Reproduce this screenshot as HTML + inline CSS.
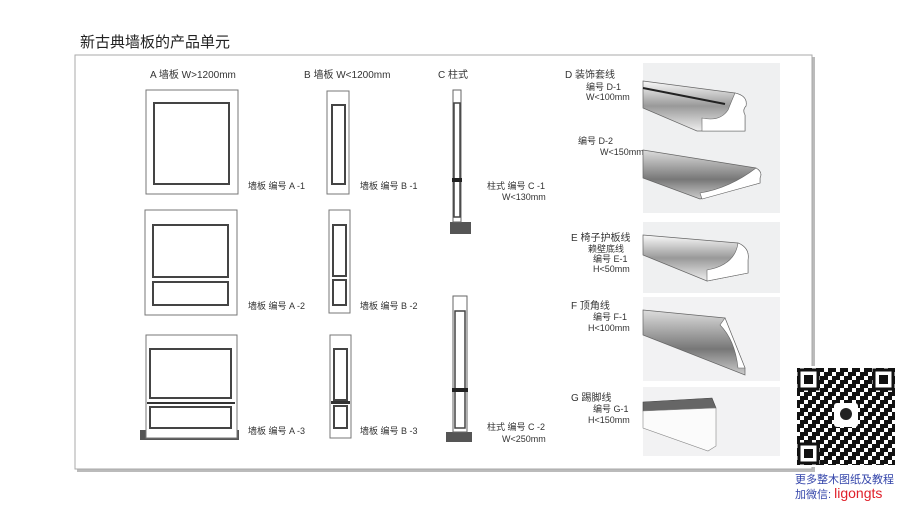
<!DOCTYPE html>
<html><head><meta charset="utf-8"><style>
html,body{margin:0;padding:0;background:#fff;width:900px;height:506px;overflow:hidden}
svg text{font-family:"Liberation Sans","Noto Sans CJK SC",sans-serif;fill:#333}
</style></head><body>
<svg width="900" height="506" viewBox="0 0 900 506" xmlns="http://www.w3.org/2000/svg">
<defs>
<linearGradient id="g1" x1="0" y1="0" x2="0" y2="1"><stop offset="0" stop-color="#fafafa"/><stop offset=".5" stop-color="#999"/><stop offset="1" stop-color="#eee"/></linearGradient>
<linearGradient id="g2" x1="0" y1="0" x2="0" y2="1"><stop offset="0" stop-color="#ddd"/><stop offset=".6" stop-color="#777"/><stop offset="1" stop-color="#ccc"/></linearGradient>
<pattern id="qr" width="12" height="12" patternUnits="userSpaceOnUse">
<rect x="0" y="0" width="4" height="4" fill="#111"/><rect x="8" y="0" width="4" height="8" fill="#111"/><rect x="4" y="4" width="4" height="4" fill="#111"/><rect x="0" y="8" width="8" height="4" fill="#111"/></pattern>
</defs>
<text x="80" y="47" font-size="15" style="fill:#222">新古典墙板的产品单元</text>
<rect x="77" y="57" width="738" height="415" fill="#bbb"/>
<rect x="75" y="55" width="737" height="414" fill="#fff" stroke="#aaa" stroke-width="1"/>
<g font-size="9">
<text x="150" y="78" font-size="10">A 墙板 W&gt;1200mm</text>
<text x="304" y="78" font-size="10">B 墙板 W&lt;1200mm</text>
<text x="438" y="78" font-size="10">C 柱式</text>
<text x="248" y="189">墙板 编号 A -1</text>
<text x="360" y="189">墙板 编号 B -1</text>
<text x="487" y="189">柱式 编号 C -1</text>
<text x="502" y="200">W&lt;130mm</text>
<text x="248" y="309">墙板 编号 A -2</text>
<text x="360" y="309">墙板 编号 B -2</text>
<text x="248" y="434">墙板 编号 A -3</text>
<text x="360" y="434">墙板 编号 B -3</text>
<text x="487" y="430">柱式 编号 C -2</text>
<text x="502" y="442">W&lt;250mm</text>
<text x="565" y="78" font-size="10">D 装饰套线</text>
<text x="586" y="90">编号 D-1</text>
<text x="586" y="100">W&lt;100mm</text>
<text x="578" y="144">编号 D-2</text>
<text x="600" y="155">W&lt;150mm</text>
<text x="571" y="241" font-size="10">E 椅子护板线</text>
<text x="588" y="252">赖壁底线</text>
<text x="593" y="262">编号 E-1</text>
<text x="593" y="272">H&lt;50mm</text>
<text x="571" y="309" font-size="10">F 顶角线</text>
<text x="593" y="320">编号 F-1</text>
<text x="588" y="331">H&lt;100mm</text>
<text x="571" y="401" font-size="10">G 踢脚线</text>
<text x="593" y="412">编号 G-1</text>
<text x="588" y="423">H&lt;150mm</text>
</g>
<g fill="#fff" stroke="#444" stroke-width="1">
<rect x="146" y="90" width="92" height="104" stroke="#777"/>
<rect x="154" y="103" width="75" height="81" stroke-width="2"/>
<rect x="145" y="210" width="92" height="105" stroke="#777"/>
<rect x="153" y="225" width="75" height="52" stroke-width="2"/>
<rect x="153" y="282" width="75" height="23" stroke-width="2"/>
<rect x="140" y="430" width="99" height="10" fill="#555" stroke="none"/>
<rect x="146" y="335" width="91" height="103" stroke="#777"/>
<rect x="150" y="349" width="81" height="49" stroke-width="2"/>
<rect x="147" y="402" width="88" height="2" fill="#333" stroke="none"/>
<rect x="150" y="407" width="81" height="21" stroke-width="2"/>
<rect x="327" y="91" width="22" height="103" stroke="#777"/>
<rect x="332" y="105" width="13" height="79" stroke-width="2"/>
<rect x="329" y="210" width="21" height="103" stroke="#777"/>
<rect x="333" y="225" width="13" height="51" stroke-width="2"/>
<rect x="333" y="280" width="13" height="25" stroke-width="2"/>
<rect x="330" y="335" width="21" height="103" stroke="#777"/>
<rect x="334" y="349" width="13" height="51" stroke-width="2"/>
<rect x="331" y="401" width="19" height="3" fill="#333" stroke="none"/>
<rect x="334" y="406" width="13" height="22" stroke-width="2"/>
<rect x="450" y="222" width="21" height="12" fill="#555" stroke="none"/>
<rect x="453" y="90" width="8" height="132" stroke="#666"/>
<rect x="454" y="103" width="6" height="114" stroke-width="1.5"/>
<rect x="452" y="178" width="10" height="4" fill="#222" stroke="none"/>
<rect x="446" y="432" width="26" height="10" fill="#555" stroke="none"/>
<rect x="453" y="296" width="14" height="136" stroke="#666"/>
<rect x="455" y="311" width="10" height="117" stroke-width="1.5"/>
<rect x="452" y="388" width="16" height="4" fill="#222" stroke="none"/>
</g>
<rect x="643" y="63" width="137" height="150" fill="#eff0f1"/>
<rect x="643" y="222" width="137" height="71" fill="#eff0f1"/>
<rect x="643" y="297" width="137" height="84" fill="#f2f2f3"/>
<rect x="643" y="387" width="137" height="69" fill="#f2f2f3"/>
<path d="M643 81 L735 93 Q748 96 746 106 Q742 110 745 115 L745 131 L697 131 L643 108 Z" fill="url(#g1)" stroke="#666" stroke-width=".7"/>
<path d="M735 93 Q748 96 746 106 Q742 110 745 115 L745 131 L702 131 L702 118 Q720 122 728 110 Q732 100 735 93Z" fill="#fff" stroke="#666" stroke-width=".6"/>
<path d="M643 88 L725 104" stroke="#222" stroke-width="2"/>
<path d="M643 150 L756 168 Q763 172 760 178 L760 183 L700 199 L643 178 Z" fill="url(#g2)" stroke="#666" stroke-width=".7"/>
<path d="M756 168 Q763 172 760 178 L760 183 L702 199 L700 193 Q730 188 756 168Z" fill="#fff" stroke="#666" stroke-width=".6"/>
<path d="M643 235 L738 243 Q750 248 748 260 L748 273 L707 281 L643 255 Z" fill="url(#g1)" stroke="#666" stroke-width=".7"/>
<path d="M738 243 Q750 248 748 260 L748 273 L707 281 L707 270 Q735 265 738 243Z" fill="#fff" stroke="#666" stroke-width=".6"/>
<path d="M643 310 L725 318 L745 368 L745 375 L643 335 Z" fill="url(#g2)" stroke="#666" stroke-width=".7"/>
<path d="M725 318 L745 368 L738 368 Q735 340 720 325Z" fill="#fff" stroke="#666" stroke-width=".6"/>
<path d="M643 402 L712 398 L716 408 L643 411 Z" fill="#666" stroke="#444" stroke-width=".6"/>
<path d="M643 411 L716 408 L716 446 L708 451 L643 428 Z" fill="#fbfbfb" stroke="#888" stroke-width=".6"/>
<rect x="795" y="366" width="102" height="101" fill="#fff"/>
<rect x="797" y="368" width="98" height="97" fill="url(#qr)"/>
<g fill="#fff" stroke="#111" stroke-width="3">
<rect x="799" y="370" width="19" height="19"/><rect x="874" y="370" width="19" height="19"/><rect x="799" y="444" width="19" height="19"/>
</g>
<g fill="#111"><rect x="804" y="375" width="9" height="9"/><rect x="879" y="375" width="9" height="9"/><rect x="804" y="449" width="9" height="9"/></g>
<rect x="834" y="403" width="24" height="24" fill="#fff" rx="3"/>
<circle cx="846" cy="414" r="6" fill="#222"/>
<text x="795" y="483" font-size="11" style="fill:#3344aa">更多整木图纸及教程</text>
<text x="795" y="498" font-size="11" style="fill:#3344aa">加微信: <tspan style="fill:#e0202a" font-size="14">ligongts</tspan></text>
</svg>
</body></html>
